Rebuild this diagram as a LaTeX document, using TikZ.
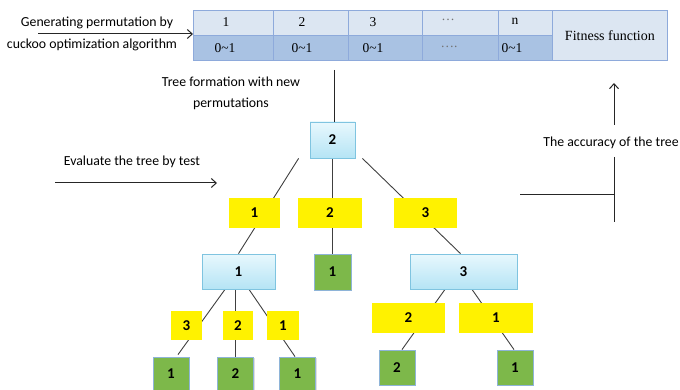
\documentclass[tikz,border=0pt]{standalone}
\usepackage{fontspec}
\setmainfont{Liberation Serif}
\newfontfamily\calib{Carlito}
\usetikzlibrary{arrows.meta,calc,shadows,backgrounds}
\definecolor{cellhi}{HTML}{DCE6F2}
\definecolor{celllo}{HTML}{A9C2E3}
\definecolor{cellline}{HTML}{8EAADB}
\definecolor{boxtop}{HTML}{E8F8FD}
\definecolor{boxbot}{HTML}{B5E4F5}
\definecolor{boxline}{HTML}{7FC4E0}
\definecolor{leaf}{HTML}{7DB84A}
\definecolor{leafline}{HTML}{8EB4D8}
\definecolor{wire}{HTML}{404040}
\tikzset{
  cell/.style={draw=cellline, line width=0.8pt, inner sep=0pt},
  hicell/.style={cell, fill=cellhi},
  locell/.style={cell, fill=celllo},
  celltxt/.style={font=\fontsize{13.5}{13.5}\selectfont, inner sep=0pt},
  inner/.style={draw=boxline, line width=0.8pt, top color=boxtop, bottom color=boxbot,
    inner sep=0pt, font=\calib\bfseries\fontsize{15}{15}\selectfont,
    drop shadow={opacity=0.25, shadow xshift=1pt, shadow yshift=-1pt}},
  edgelbl/.style={fill=yellow, inner sep=0pt, font=\calib\bfseries\fontsize{15}{15}\selectfont},
  leafbox/.style={draw=leafline, line width=0.8pt, fill=leaf, inner sep=0pt,
    minimum width=36pt, font=\calib\bfseries\fontsize{15}{15}\selectfont,
    drop shadow={opacity=0.25, shadow xshift=1pt, shadow yshift=-1pt}},
  note/.style={font=\calib\fontsize{13.8}{15}\selectfont, inner sep=0pt, align=center},
  link/.style={draw=wire, line width=0.9pt},
  flow/.style={draw=black!85, line width=1pt},
  tip/.style={-{Straight Barb[length=5pt,width=9pt]}},
}
\begin{document}
\begin{tikzpicture}[x=1pt,y=-1pt]
\useasboundingbox (0,0) rectangle (680,390);

% permutation table
\foreach \n/\xa/\xb in {1/193/273, 2/273/348, 3/348/422, 4/422/498, 5/498/552}{
  \node[hicell, minimum width={\xb-\xa}, minimum height=25pt, anchor=north west] (t\n) at (\xa,10) {};
  \node[locell, minimum width={\xb-\xa}, minimum height=25pt, anchor=north west] (b\n) at (\xa,35) {};
}
\node[celltxt] (t1txt) at (226,22) {1};
\node[celltxt] (t2txt) at (302,22) {2};
\node[celltxt] (t3txt) at (373,22) {3};
\node[celltxt, text=black!55] (t4txt) at (448,20) {\dots};
\node[celltxt] (t5txt) at (515,21) {n};
\node[celltxt] (b1txt) at (225,48) {0\textasciitilde 1};
\node[celltxt] (b2txt) at (302,48) {0\textasciitilde 1};
\node[celltxt] (b3txt) at (373,48) {0\textasciitilde 1};
\node[celltxt, text=black!55] (b4txt) at (449,47) {\dots.};
\node[celltxt] (b5txt) at (512,48) {0\textasciitilde 1};
\node[hicell, minimum width=115pt, minimum height=50pt, anchor=north west,
  font=\fontsize{14}{14}\selectfont] (fit) at (552,10) {Fitness function};

% entry arrow into the table
\node[note] (gen1) at (97,23) {Generating permutation by};
\node[note] (gen2) at (92,45) {cuckoo optimization algorithm};
\coordinate (genstart) at (38,34);
\draw[flow, tip] (genstart) -- (genstart -| t1.west);

% tree nodes
\node[inner, minimum width=45pt, minimum height=36pt] (root) at (332.5,140) {2};
\node[edgelbl, minimum width=51pt, minimum height=30pt] (y1) at (254.5,213) {1};
\node[edgelbl, minimum width=64pt, minimum height=30pt] (y2) at (330,213) {2};
\node[edgelbl, minimum width=63pt, minimum height=30pt] (y3) at (425.5,213) {3};
\node[inner, minimum width=73pt, minimum height=35pt] (n1) at (238.5,271.5) {1};
\node[leafbox, minimum width=37pt, minimum height=36pt] (gm) at (332.5,272) {1};
\node[inner, minimum width=107pt, minimum height=35pt] (n3) at (463.5,271.5) {3};
\node[edgelbl, minimum width=31pt, minimum height=29pt] (ya) at (186.5,325.5) {3};
\node[edgelbl, minimum width=30pt, minimum height=29pt] (yb) at (238,325.5) {2};
\node[edgelbl, minimum width=32pt, minimum height=29pt] (yc) at (283,325.5) {1};
\node[edgelbl, minimum width=73pt, minimum height=30pt] (yd) at (408.5,318) {2};
\node[edgelbl, minimum width=74pt, minimum height=30pt] (ye) at (496,318) {1};
\node[leafbox, minimum height=34pt] (l1) at (171,374) {1};
\node[leafbox, minimum height=34pt] (l2) at (235.5,374) {2};
\node[leafbox, minimum height=34pt] (l3) at (297.5,374) {1};
\node[leafbox, minimum height=35pt] (l4) at (397,367.5) {2};
\node[leafbox, minimum height=35pt] (l5) at (515,367.5) {1};

% tree edges, behind the boxes
\begin{scope}[on background layer]
\draw[link] ($(root.south west)+(-11,0)$) -- (n1.north);
\draw[link] (root.south) -- (gm.north);
\draw[link] ($(root.south east)+(7,0)$) -- ($(n3.north)+(-3,0)$);
\draw[link] ($(n1.south)+(-13.5,0)$) -- ($(l1.north)+(7,-2)$);
\draw[link] ($(n1.south)+(-3,0)$) -- (l2.north);
\draw[link] ($(n1.south)+(10.5,0)$) -- ($(l3.north)+(-2.5,0)$);
\draw[link] ($(n3.south)+(-18.5,0)$) -- ($(l4.north)+(5,0)$);
\draw[link] ($(n3.south)+(8.5,0)$) -- ($(l5.north)+(-1,0)$);
\end{scope}

% formation of the tree from the table
\coordinate (formtop) at (334,70);
\draw[flow] (formtop) -- (formtop |- root.north);
\node[note] (form) at (231,93) {Tree formation with new\\[6pt]permutations};

% evaluation arrow
\node[note] (eval) at (132,162) {Evaluate the tree by test};
\coordinate (evalA) at (55,183);
\coordinate (evalB) at (217,183);
\draw[flow, tip] (evalA) -- (evalB);

% accuracy feedback to the fitness function
\coordinate (accA) at (614,125);
\coordinate (accB) at (614,83);
\draw[flow, tip] (accA) -- (accB);
\node[note] (acc) at (611,143) {The accuracy of the tree};
\coordinate (accC) at (614,157);
\coordinate (accD) at (614,222);
\coordinate (accE) at (520,195);
\draw[flow] (accC) -- (accD);
\draw[flow] (accE) -- (accE -| accC);
\end{tikzpicture}
\end{document}
